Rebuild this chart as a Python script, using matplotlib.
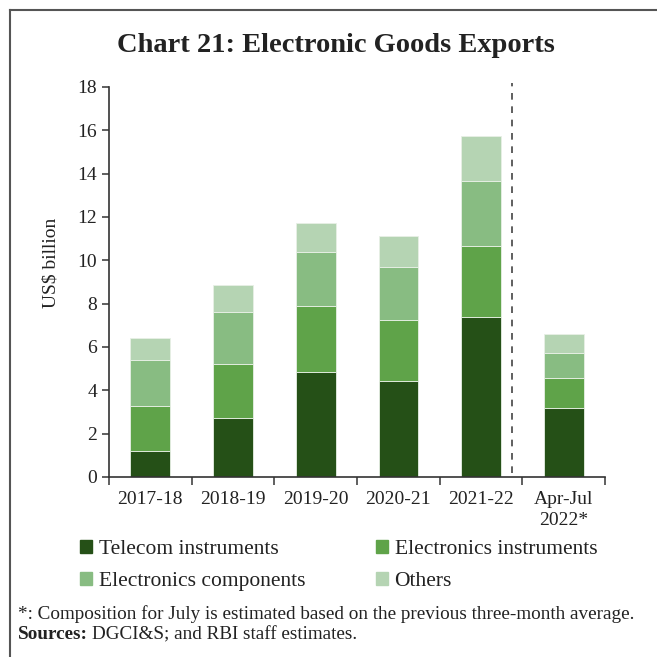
import numpy as np
import matplotlib
matplotlib.use("Agg")
import matplotlib.pyplot as plt
from matplotlib.lines import Line2D
from matplotlib.patches import Patch

plt.rcParams['font.family'] = ['Liberation Serif', 'DejaVu Serif']

# Data (US$ billion)
periods = ["2017-18", "2018-19", "2019-20", "2020-21", "2021-22", "Apr-Jul\n2022*"]
telecom = [1.2, 2.74, 4.85, 4.45, 7.4, 3.2]
elec_instruments = [2.08, 2.49, 3.03, 2.81, 3.26, 1.38]
elec_components = [2.12, 2.40, 2.50, 2.43, 3.0, 1.16]
others = [1.0, 1.25, 1.36, 1.45, 2.08, 0.86]

series = [
    ("Telecom instruments", telecom, "#255017"),
    ("Electronics instruments", elec_instruments, "#5fa349"),
    ("Electronics components", elec_components, "#88bc82"),
    ("Others", others, "#b5d4b3"),
]

fig = plt.figure(figsize=(6.57, 6.57), dpi=100)
ax = fig.add_axes([0.1659, 0.274, 0.755, 0.5936])

x = np.arange(len(periods))
bottom = np.zeros(len(periods))
for name, vals, col in series:
    ax.bar(x, vals, width=0.48, bottom=bottom, color=col,
           edgecolor="#e8f0e6", linewidth=0.6, label=name)
    bottom += np.array(vals)

# dashed separator before the partial year
ax.axvline(4.37, ymin=0.01, ymax=1.01, color="#444444", lw=1.2, ls=(0, (4, 4)),
           clip_on=False)

ax.set_xlim(-0.5, len(periods) - 0.5)
ax.set_ylim(0, 18)
ax.set_yticks(np.arange(0, 19, 2))
ax.set_xticks(x)
ax.set_xticklabels(periods, fontsize=14, color="#222222", linespacing=1.35)
ax.tick_params(axis="x", length=0, pad=10)
ax.set_xticks(np.arange(-0.5, len(periods), 1), minor=True)
ax.tick_params(axis="x", which="minor", length=6, width=1.2, color="#444444")
ax.tick_params(axis="y", labelsize=14, length=5, width=1.2, color="#444444",
               labelcolor="#222222")
for s in ["top", "right"]:
    ax.spines[s].set_visible(False)
for s in ["left", "bottom"]:
    ax.spines[s].set_linewidth(1.2)
    ax.spines[s].set_color("#333333")

ax.set_ylabel("US$ billion", fontsize=14, color="#222222")
ax.yaxis.set_label_coords(-0.10, 0.55)

fig.text(0.512, 0.931, "Chart 21: Electronic Goods Exports", ha="center", va="center",
         fontsize=20.5, fontweight="bold", color="#222222")

handles = [Patch(color=c) for _, _, c in series]
labels = [n for n, _, _ in series]
order = [0, 2, 1, 3]
fig.legend([handles[i] for i in order], [labels[i] for i in order],
           ncol=2, loc="center left", bbox_to_anchor=(0.093, 0.139), frameon=False,
           fontsize=15.5, handlelength=0.55, handleheight=0.55, handletextpad=0.3,
           columnspacing=3.3, labelspacing=0.62, labelcolor="#222222")

fig.text(0.027, 0.066, "*: Composition for July is estimated based on the previous three-month average.",
         fontsize=13.8, color="#222222", va="center")
src = fig.text(0.027, 0.034, "Sources:", fontsize=13.8, fontweight="bold",
               color="#222222", va="center")
fig.canvas.draw()
bb = src.get_window_extent().transformed(fig.transFigure.inverted())
fig.text(bb.x1 + 0.007, 0.034, "DGCI&S; and RBI staff estimates.",
         fontsize=13.8, color="#222222", va="center")

# frame line at left and top of the panel
fig.add_artist(Line2D([0.0152, 0.0152], [0, 0.985], transform=fig.transFigure,
                      color="#555555", lw=1.5))
fig.add_artist(Line2D([0.0152, 1.0], [0.985, 0.985], transform=fig.transFigure,
                      color="#555555", lw=1.5))

fig.savefig("out.png", dpi=100, facecolor="white")
